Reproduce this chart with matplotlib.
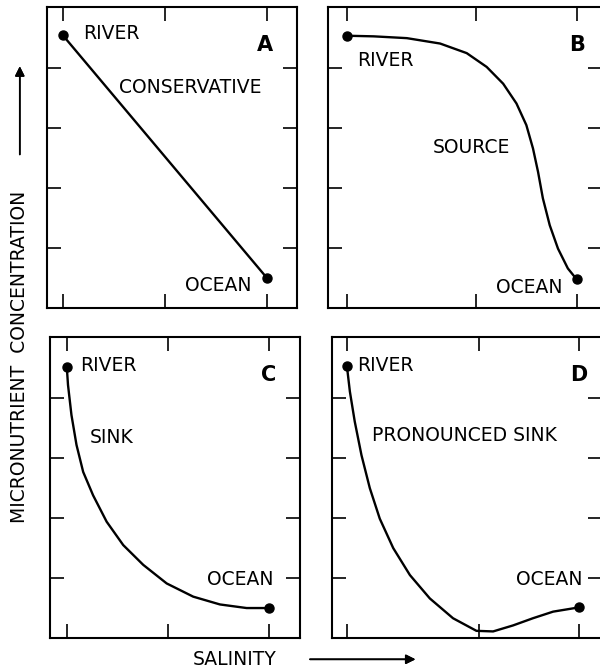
import matplotlib.pyplot as plt

# salinity (0 = river, 1 = ocean) vs micronutrient concentration (arbitrary units)
a_x = [0.0, 1.0]
a_y = [4.55, 0.5]

b_x = [0.0, 0.115, 0.26, 0.405, 0.521, 0.608, 0.68, 0.738, 0.781, 0.81, 0.832, 0.853, 0.883, 0.919, 0.962, 1.0]
b_y = [4.54, 4.53, 4.50, 4.41, 4.25, 4.02, 3.74, 3.41, 3.05, 2.66, 2.27, 1.83, 1.38, 0.99, 0.66, 0.48]

c_x = [0.0, 0.006, 0.023, 0.048, 0.081, 0.13, 0.197, 0.279, 0.378, 0.494, 0.625, 0.757, 0.889, 1.0]
c_y = [4.52, 4.22, 3.72, 3.22, 2.77, 2.38, 1.94, 1.55, 1.22, 0.91, 0.69, 0.56, 0.50, 0.50]

d_x = [0.0, 0.013, 0.034, 0.063, 0.099, 0.142, 0.2, 0.272, 0.358, 0.458, 0.559, 0.631, 0.717, 0.803, 0.89, 1.0]
d_y = [4.54, 4.11, 3.61, 3.05, 2.50, 1.99, 1.50, 1.05, 0.66, 0.33, 0.12, 0.11, 0.21, 0.33, 0.44, 0.51]

plt.rcParams['font.family'] = 'DejaVu Sans'
fig = plt.figure(figsize=(6, 6.69), dpi=100)
FS = 13.5

def panel(rect, xs, ys, xlim, xticks, letter, labels):
    ax = fig.add_axes(rect)
    ax.plot(xs, ys, color='black', lw=1.7, solid_capstyle='round', solid_joinstyle='round')
    ax.plot([xs[0], xs[-1]], [ys[0], ys[-1]], 'o', color='black', ms=6.5)
    ax.set_xlim(*xlim)
    ax.set_ylim(0, 5.02)
    ax.set_xticks(xticks)
    ax.set_yticks([1, 2, 3, 4])
    ax.tick_params(direction='in', length=10, width=1.2, top=True, right=True,
                   labelbottom=False, labelleft=False)
    for s in ax.spines.values():
        s.set_linewidth(1.5)
    ax.text(letter[0], letter[1], letter[2], fontsize=15, fontweight='bold',
            ha='center', va='center')
    for x, y, t, ha in labels:
        ax.text(x, y, t, fontsize=FS, ha=ha, va='center')
    return ax

panel([0.078, 0.5396, 0.417, 0.45], a_x, a_y, (-0.078, 1.147), [0, 0.5, 1],
      (0.99, 4.38, 'A'),
      [(0.098, 4.58, 'RIVER', 'left'), (0.275, 3.68, 'CONSERVATIVE', 'left'),
       (0.926, 0.38, 'OCEAN', 'right')])
panel([0.547, 0.5396, 0.456, 0.45], b_x, b_y, (-0.083, 1.11), [0, 0.56, 1],
      (1.004, 4.38, 'B'),
      [(0.043, 4.13, 'RIVER', 'left'), (0.374, 2.67, 'SOURCE', 'left'),
       (0.939, 0.35, 'OCEAN', 'right')])
panel([0.083, 0.0463, 0.417, 0.45], c_x, c_y, (-0.084, 1.153), [0, 0.5, 1],
      (1.0, 4.38, 'C'),
      [(0.064, 4.55, 'RIVER', 'left'), (0.114, 3.35, 'SINK', 'left'),
       (1.02, 0.97, 'OCEAN', 'right')])
panel([0.553, 0.0463, 0.45, 0.45], d_x, d_y, (-0.065, 1.10), [0, 0.57, 1],
      (1.0, 4.38, 'D'),
      [(0.043, 4.55, 'RIVER', 'left'), (0.108, 3.37, 'PRONOUNCED SINK', 'left'),
       (1.017, 0.98, 'OCEAN', 'right')])

# axis captions with arrows
fig.text(0.033, 0.466, 'MICRONUTRIENT  CONCENTRATION', rotation=90,
         fontsize=FS, ha='center', va='center')
fig.add_artist(plt.annotate('', xy=(0.033, 0.905), xytext=(0.033, 0.765),
                            xycoords='figure fraction',
                            arrowprops=dict(arrowstyle='-|>', color='black',
                                            lw=1.2, mutation_scale=14)))
fig.text(0.322, 0.0135, 'SALINITY', fontsize=FS, ha='left', va='center')
fig.add_artist(plt.annotate('', xy=(0.697, 0.0145), xytext=(0.512, 0.0145),
                            xycoords='figure fraction',
                            arrowprops=dict(arrowstyle='-|>', color='black',
                                            lw=1.2, mutation_scale=14)))

fig.savefig('out.png', dpi=100)
